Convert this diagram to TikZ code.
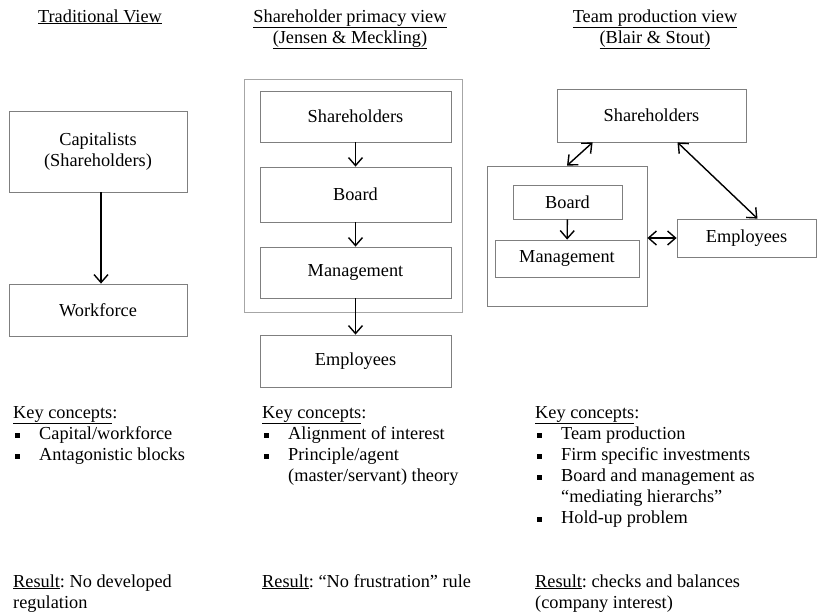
\documentclass[tikz,border=0pt]{standalone}
\usepackage{fontspec}
\setmainfont{Liberation Serif}
\usepackage{tikz}
\usetikzlibrary{arrows.meta,positioning}
\definecolor{boxgray}{HTML}{7F7F7F}
\definecolor{framegray}{HTML}{A6A6A6}
\newcommand{\bodyfont}{\fontsize{18.3}{21}\selectfont}
\newcommand{\sqbul}{\makebox[26pt][l]{\hspace{2pt}\rule[1.5pt]{5pt}{5pt}}}
\newcommand{\indnt}{\hspace*{26pt}}
\frenchspacing

\begin{document}
\begin{tikzpicture}[x=1pt,y=-1pt,font=\bodyfont]
    \tikzset{
      box/.style={draw=boxgray,line width=0.8pt,fill=white,align=center,inner sep=0pt},
      frame/.style={draw=framegray,line width=0.8pt,inner sep=0pt},
      head/.style={align=center,anchor=base,inner sep=0pt},
      keys/.style={align=left,anchor=base west,inner sep=0pt},
      arrow/.style={-{Straight Barb[length=8pt,width=14pt]},line width=1.4pt},
      darrow/.style={{Straight Barb[length=8pt,width=14pt]}-{Straight Barb[length=8pt,width=14pt]},line width=1.4pt}
    }
    \useasboundingbox (0,0) rectangle (817,614);
    % column headings (base = last line)
    \node[head] (tradhead) at (100,22) {\underline{Traditional View}};
    \node[head] (primhead) at (350,43) {\underline{Shareholder primacy view}\\\underline{(Jensen \& Meckling)}};
    \node[head] (teamhead) at (655,43) {\underline{Team production view}\\\underline{(Blair \& Stout)}};
    % traditional view
    \node[box,minimum width=178pt,minimum height=81pt] (capital) at (98,151.5) {Capitalists\\(Shareholders)};
    \node[box,minimum width=178pt,minimum height=52pt] (workforce) at (98,310) {Workforce};
    \draw[arrow] ([xshift=3pt]capital.south) -- ([xshift=3pt]workforce.north);
    % shareholder primacy view
    \node[frame,minimum width=218pt,minimum height=233pt] (primframe) at (353,195.5) {};
    \node[box,minimum width=191pt,minimum height=51pt] (primsh) at (355.5,116.5) {Shareholders};
    \node[box,minimum width=191pt,minimum height=55pt] (primboard) at (355.5,194.5) {Board};
    \node[box,minimum width=191pt,minimum height=51pt] (primmgmt) at (355.5,272.5) {Management};
    \node[box,minimum width=191pt,minimum height=52pt] (primemp) at (355.5,361) {Employees};
    \draw[arrow] (primsh) -- (primboard);
    \draw[arrow] (primboard) -- (primmgmt);
    \draw[arrow] (primmgmt) -- (primemp);
    % team production view
    \node[box,minimum width=189pt,minimum height=53pt] (teamsh) at (651.5,115.5) {Shareholders};
    \node[box,minimum width=160pt,minimum height=140pt] (teamframe) at (567,236) {};
    \node[box,minimum width=109pt,minimum height=34pt] (teamboard) at (567.5,202) {Board};
    \node[box,minimum width=144pt,minimum height=37pt] (teammgmt) at (567,258.5) {Management};
    \node[box,minimum width=139pt,minimum height=38pt] (teamemp) at (746.5,238) {Employees};
    \draw[arrow] (teamboard) -- (teammgmt);
    \draw[darrow] ([xshift=36pt]teamsh.south west) -- (teamframe.north);
    \draw[darrow] ([xshift=26pt]teamsh.south) -- ([xshift=11pt]teamemp.north);
    \draw[darrow] (teamframe.east |- teamemp.west) -- (teamemp.west);
    % key concepts
    \node[keys] (tradkeys) at (13,460) {\underline{Key concepts}:\\\sqbul Capital/workforce\\\sqbul Antagonistic blocks};
    \node[keys] (primkeys) at (262,481) {\underline{Key concepts}:\\\sqbul Alignment of interest\\\sqbul Principle/agent\\\indnt(master/servant) theory};
    \node[keys] (teamkeys) at (535,523) {\underline{Key concepts}:\\\sqbul Team production\\\sqbul Firm specific investments\\\sqbul Board and management as\\\indnt“mediating hierarchs”\\\sqbul Hold-up problem};
    % results
    \node[keys] (tradres) at (13,608) {\underline{Result}: No developed\\regulation};
    \node[keys] (primres) at (262,587) {\underline{Result}: “No frustration” rule};
    \node[keys] (teamres) at (535,608) {\underline{Result}: checks and balances\\(company interest)};
  \end{tikzpicture}
\end{document}
